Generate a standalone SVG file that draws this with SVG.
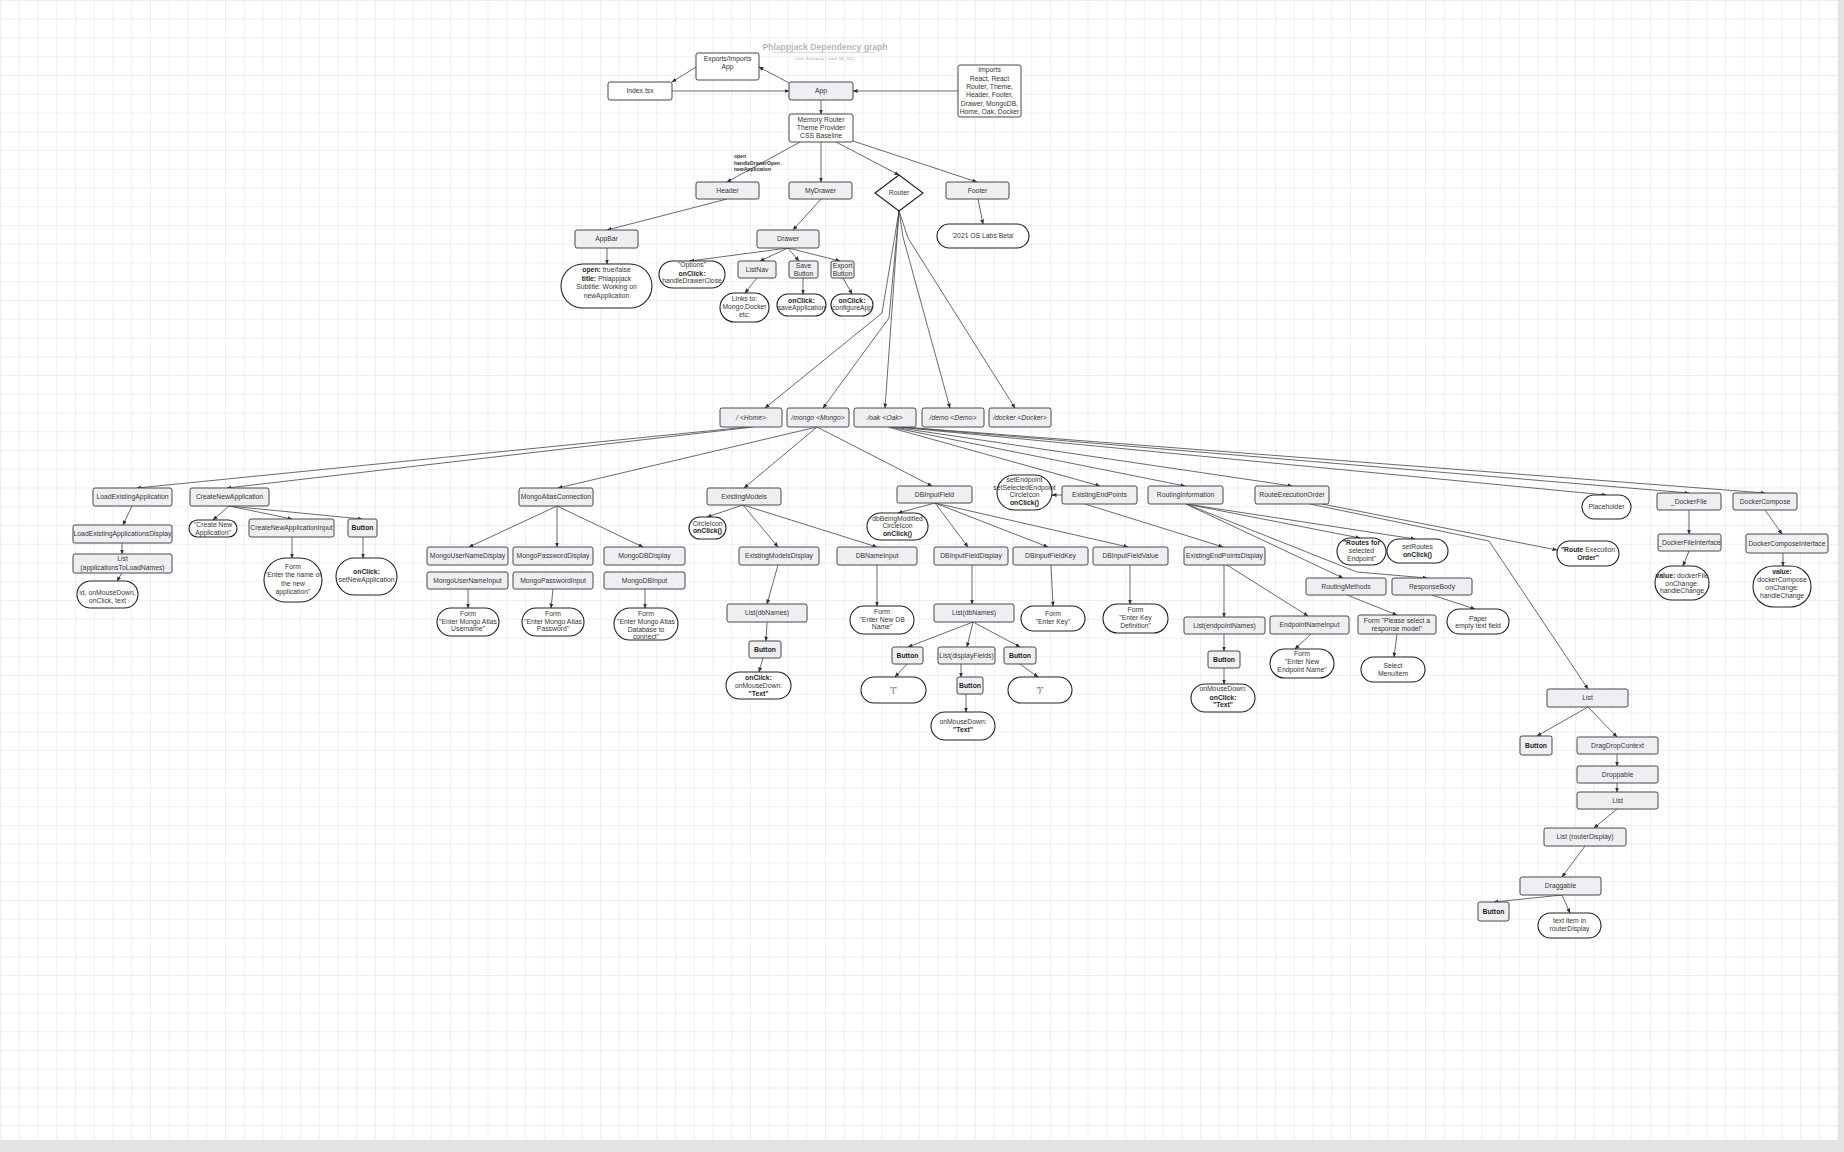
<svg xmlns="http://www.w3.org/2000/svg" width="1844" height="1152" viewBox="0 0 1844 1152">
<defs>
<pattern id="grid" width="18.75" height="18.75" patternUnits="userSpaceOnUse">
<path d="M18.75,0 L0,0 L0,18.75" fill="none" stroke="#d8d8d8" stroke-width="0.8"/>
</pattern>
<marker id="a" viewBox="0 0 10 10" refX="9" refY="5" markerWidth="5" markerHeight="5" markerUnits="userSpaceOnUse" orient="auto">
<path d="M0,1 L10,5 L0,9 z" fill="#333"/>
</marker>
</defs>
<style>
.g{fill:#efeff3;stroke:#484848;stroke-width:1}
.w{fill:#fff;stroke:#484848;stroke-width:1}
.p{fill:#fff;stroke:#222;stroke-width:1.1}
text{font-family:"Liberation Sans",Arial,sans-serif;font-size:6.8px;fill:#353535;text-anchor:middle}
.bd{font-weight:bold;fill:#1e1e1e}
.it{font-style:italic}
.e{fill:none;stroke:#444;stroke-width:.8;marker-end:url(#a)}
</style>
<rect width="1844" height="1152" fill="#fff"/>
<rect width="1838" height="1140" fill="url(#grid)"/>
<rect x="1838" y="0" width="6" height="1152" fill="#e4e4e4"/>
<rect x="0" y="1140" width="1844" height="12" fill="#e4e4e4"/>

<g id="title">
<text x="825" y="50" style="font-size:8.6px;font-weight:bold;fill:#b3b8c8">Phlappjack Dependency graph</text>
<line x1="773" y1="52.6" x2="875" y2="52.6" stroke="#c9cdd8" stroke-width=".8"/>
<text x="825" y="60" style="font-size:4.4px;fill:#a8acb8">Chris Salisbury  |  June 18, 2021</text>
</g>

<g id="connectors">
<path class="e" d="M789,83 L759,67"/>
<path class="e" d="M696,67 L672,82"/>
<path class="e" d="M672,91 L789,91"/>
<path class="e" d="M958,91 L853,91"/>
<path class="e" d="M821,100 L821,114"/>
<path class="e" d="M800,142 L727,182"/>
<path class="e" d="M821,142 L821,182"/>
<path class="e" d="M836,142 L899,175"/>
<path class="e" d="M853,141 L977,182"/>
<path class="e" d="M978,199 L983,224"/>
<path class="e" d="M727,199 L607,230"/>
<path class="e" d="M607,248 L607,264"/>
<path class="e" d="M821,199 L793,230"/>
<path class="e" d="M788,248 L690,261"/>
<path class="e" d="M788,248 L760,261"/>
<path class="e" d="M788,248 L799,261"/>
<path class="e" d="M788,248 L840,261"/>
<path class="e" d="M757,278 L745,293"/>
<path class="e" d="M803,278 L803,294"/>
<path class="e" d="M843,278 L852,294"/>
<path class="e" d="M899,211 L882,313 L765,408"/>
<path class="e" d="M899,211 L889,318 L823,408"/>
<path class="e" d="M899,211 L885,408"/>
<path class="e" d="M899,211 L903,237 L950,408"/>
<path class="e" d="M899,211 L908,238 L1015,408"/>
<path class="e" d="M748,427 L137,488"/>
<path class="e" d="M753,427 L227,488"/>
<path class="e" d="M817,427 L558,488"/>
<path class="e" d="M817,427 L744,488"/>
<path class="e" d="M817,427 L932,486"/>
<path class="e" d="M888,427 L1100,486"/>
<path class="e" d="M890,427 L1185,486"/>
<path class="e" d="M893,427 L1292,486"/>
<path class="e" d="M897,427 L1606,495"/>
<path class="e" d="M900,427 L1689,493"/>
<path class="e" d="M903,427 L1765,493"/>
<path class="e" d="M132,506 L123,525"/>
<path class="e" d="M122,543 L122,554"/>
<path class="e" d="M122,573 L117,581"/>
<path class="e" d="M229,506 L213,520"/>
<path class="e" d="M229,506 L292,519"/>
<path class="e" d="M229,506 L362,519"/>
<path class="e" d="M292,537 L292,558"/>
<path class="e" d="M363,537 L363,558"/>
<path class="e" d="M557,506 L469,547"/>
<path class="e" d="M557,506 L557,547"/>
<path class="e" d="M557,506 L643,547"/>
<path class="e" d="M468,589 L468,608"/>
<path class="e" d="M553,589 L551,608"/>
<path class="e" d="M645,589 L645,608"/>
<path class="e" d="M743,505 L707,517"/>
<path class="e" d="M743,505 L778,547"/>
<path class="e" d="M743,505 L877,547"/>
<path class="e" d="M778,565 L767,604"/>
<path class="e" d="M767,622 L766,641"/>
<path class="e" d="M763,658 L759,672"/>
<path class="e" d="M877,565 L877,606"/>
<path class="e" d="M935,503 L898,513"/>
<path class="e" d="M935,503 L968,547"/>
<path class="e" d="M935,503 L1048,547"/>
<path class="e" d="M935,503 L1128,547"/>
<path class="e" d="M972,565 L972,604"/>
<path class="e" d="M973,622 L908,647"/>
<path class="e" d="M973,622 L967,647"/>
<path class="e" d="M973,622 L1020,647"/>
<path class="e" d="M907,664 L895,677"/>
<path class="e" d="M961,664 L961,677"/>
<path class="e" d="M966,694 L966,712"/>
<path class="e" d="M1020,664 L1038,677"/>
<path class="e" d="M1051,565 L1053,606"/>
<path class="e" d="M1130,565 L1130,604"/>
<path class="e" d="M1062,495 L1052,495"/>
<path class="e" d="M1085,504 L1223,547"/>
<path class="e" d="M1224,565 L1224,617"/>
<path class="e" d="M1227,565 L1308,616"/>
<path class="e" d="M1224,634 L1224,651"/>
<path class="e" d="M1224,668 L1224,684"/>
<path class="e" d="M1311,634 L1295,649"/>
<path class="e" d="M1186,504 L1360,538"/>
<path class="e" d="M1186,504 L1415,539"/>
<path class="e" d="M1186,504 L1343,578"/>
<path class="e" d="M1186,504 L1357,572 L1427,578"/>
<path class="e" d="M1347,595 L1397,615"/>
<path class="e" d="M1432,595 L1475,609"/>
<path class="e" d="M1397,634 L1394,657"/>
<path class="e" d="M1310,504 L1489,541 L1588,689"/>
<path class="e" d="M1322,504 L1557,550"/>
<path class="e" d="M1689,510 L1689,534"/>
<path class="e" d="M1689,551 L1683,566"/>
<path class="e" d="M1765,510 L1782,534"/>
<path class="e" d="M1783,553 L1783,566"/>
<path class="e" d="M1588,707 L1537,736"/>
<path class="e" d="M1588,707 L1617,737"/>
<path class="e" d="M1617,754 L1617,766"/>
<path class="e" d="M1617,783 L1617,792"/>
<path class="e" d="M1617,809 L1594,828"/>
<path class="e" d="M1585,846 L1562,877"/>
<path class="e" d="M1562,895 L1494,902"/>
<path class="e" d="M1562,895 L1570,913"/>
<text style="font-size:5px;font-weight:bold;fill:#333;text-anchor:start"><tspan x="734" y="158">open</tspan><tspan x="734" y="164.5">handleDrawerOpen</tspan><tspan x="734" y="171">newApplication</tspan></text>
</g>

<g id="n-exports"><rect class="w" x="696" y="53" width="63" height="27" rx="2"/><text><tspan x="727.5" y="60.8">Exports/Imports</tspan><tspan x="727.5" y="69.1">App</tspan></text></g>
<g id="n-index"><rect class="w" x="608" y="82" width="64" height="18" rx="2"/><text x="640" y="93.4">Index.tsx</text></g>
<g id="n-app"><rect class="g" x="789" y="82" width="64" height="18" rx="2"/><text x="821" y="93.4">App</text></g>
<g id="n-imports"><rect class="w" x="958" y="65" width="63" height="52" rx="2"/><text><tspan x="989.5" y="72.4">Imports</tspan><tspan x="989.5" y="80.7">React, React</tspan><tspan x="989.5" y="89">Router, Theme,</tspan><tspan x="989.5" y="97.3">Header, Footer,</tspan><tspan x="989.5" y="105.6">Drawer, MongoDB,</tspan><tspan x="989.5" y="113.9">Home, Oak, Docker</tspan></text></g>
<g id="n-memory"><rect class="w" x="789" y="114" width="64" height="28" rx="2"/><text><tspan x="821" y="121.5">Memory Router</tspan><tspan x="821" y="129.5">Theme Provider</tspan><tspan x="821" y="137.5">CSS Baseline</tspan></text></g>
<g id="n-header"><rect class="g" x="696" y="182" width="63" height="17" rx="2"/><text x="727.5" y="193">Header</text></g>
<g id="n-mydrawer"><rect class="g" x="789" y="182" width="63" height="17" rx="2"/><text x="820.5" y="193">MyDrawer</text></g>
<g id="n-router"><polygon class="p" points="875,193 899,175 923,193 899,211"/><text x="899" y="195.4">Router</text></g>
<g id="n-footer"><rect class="g" x="946" y="182" width="63" height="17" rx="2"/><text x="977.5" y="193">Footer</text></g>
<g id="n-labs"><rect class="p" x="937" y="224" width="92" height="24" rx="12"/><text x="983" y="238.4">'2021 OS Labs Beta'</text></g>
<g id="n-appbar"><rect class="g" x="575" y="230" width="63" height="18" rx="2"/><text x="606.5" y="241.4">AppBar</text></g>
<g id="n-appbar-props"><rect class="p" x="561" y="264" width="91" height="44" rx="22"/><text><tspan x="606.5" y="272.4"><tspan class="bd">open:</tspan> true/false</tspan><tspan x="606.5" y="280.7"><tspan class="bd">title:</tspan>  Phlappjack</tspan><tspan x="606.5" y="289.4">Subtitle: Working on</tspan><tspan x="606.5" y="297.7">newApplication</tspan></text></g>
<g id="n-drawer"><rect class="g" x="757" y="230" width="62" height="18" rx="2"/><text x="788" y="241.4">Drawer</text></g>
<g id="n-options"><rect class="p" x="659" y="261" width="66" height="27" rx="13.5"/><text><tspan x="692" y="267.4">"Options"</tspan><tspan x="692" y="275.7" class="bd">onClick:</tspan><tspan x="692" y="283.4">handleDrawerClose</tspan></text></g>
<g id="n-listnav"><rect class="g" x="738" y="261" width="38" height="17" rx="2"/><text x="757" y="272">ListNav</text></g>
<g id="n-save"><rect class="g" x="789" y="261" width="29" height="17" rx="2"/><text><tspan x="803.5" y="268.1">Save</tspan><tspan x="803.5" y="275.7">Button</tspan></text></g>
<g id="n-export"><rect class="g" x="831" y="261" width="23" height="17" rx="2"/><text><tspan x="842.5" y="268.1">Export</tspan><tspan x="842.5" y="275.7">Button</tspan></text></g>
<g id="n-links"><rect class="p" x="720" y="293" width="49" height="29" rx="14.5"/><text><tspan x="744.5" y="301.4">Links to:</tspan><tspan x="744.5" y="309.4">Mongo,Docker</tspan><tspan x="744.5" y="317.4">etc:</tspan></text></g>
<g id="n-saveapp"><rect class="p" x="777" y="294" width="49" height="22" rx="11"/><text><tspan x="801.5" y="303.1" class="bd">onClick:</tspan><tspan x="801.5" y="310.4">saveApplication</tspan></text></g>
<g id="n-configure"><rect class="p" x="831" y="294" width="42" height="22" rx="11"/><text><tspan x="852" y="303.1" class="bd">onClick:</tspan><tspan x="852" y="310.4">configureApp</tspan></text></g>

<g id="n-home"><rect class="g" x="720" y="408" width="62" height="19" rx="2"/><text class="it" x="751" y="420">/ &lt;Home&gt;</text></g>
<g id="n-mongo"><rect class="g" x="787" y="408" width="62" height="19" rx="2"/><text class="it" x="818" y="420">/mongo &lt;Mongo&gt;</text></g>
<g id="n-oak"><rect class="g" x="854" y="408" width="62" height="19" rx="2"/><text class="it" x="885" y="420">/oak &lt;Oak&gt;</text></g>
<g id="n-demo"><rect class="g" x="922" y="408" width="62" height="19" rx="2"/><text class="it" x="953" y="420">/demo &lt;Demo&gt;</text></g>
<g id="n-docker"><rect class="g" x="989" y="408" width="62" height="19" rx="2"/><text class="it" x="1020" y="420">/docker &lt;Docker&gt;</text></g>

<g id="n-loadexisting"><rect class="g" x="93" y="488" width="79" height="18" rx="2"/><text x="132.5" y="499.4">LoadExistingApplication</text></g>
<g id="n-createnew"><rect class="g" x="190" y="488" width="79" height="18" rx="2"/><text x="229.5" y="499.4">CreateNewApplication</text></g>
<g id="n-loaddisplay"><rect class="g" x="73" y="525" width="99" height="18" rx="2"/><text x="122.5" y="536.4">LoadExistingApplicationsDisplay</text></g>
<g id="n-loadlist"><rect class="g" x="73" y="554" width="99" height="19" rx="2"/><text><tspan x="122.5" y="561.4">List</tspan><tspan x="122.5" y="570.1">(applicationsToLoadNames)</tspan></text></g>
<g id="n-loadprops"><rect class="p" x="77" y="581" width="61" height="27" rx="13.5"/><text><tspan x="107.5" y="594.7">id, onMouseDown,</tspan><tspan x="107.5" y="603.4">onClick, text</tspan></text></g>
<g id="n-createlabel"><rect class="p" x="189" y="520" width="48" height="17" rx="8.5"/><text><tspan x="213" y="527.4">"Create New</tspan><tspan x="213" y="535.1">Application"</tspan></text></g>
<g id="n-createinput"><rect class="g" x="249" y="519" width="85" height="18" rx="2"/><text x="291.5" y="530.4">CreateNewApplicationInput</text></g>
<g id="n-createbutton"><rect class="g" x="348" y="519" width="29" height="18" rx="2"/><text class="bd" x="362.5" y="530.4">Button</text></g>
<g id="n-createform"><rect class="p" x="264" y="558" width="58" height="44" rx="22"/><text><tspan x="293" y="569.1">Form</tspan><tspan x="293" y="577.4">"Enter the name of</tspan><tspan x="293" y="585.7">the new</tspan><tspan x="293" y="594.1">application"</tspan></text></g>
<g id="n-setnew"><rect class="p" x="336" y="558" width="61" height="37" rx="18.5"/><text><tspan x="366.5" y="574.1" class="bd">onClick:</tspan><tspan x="366.5" y="581.7">setNewApplication</tspan></text></g>

<g id="n-atlas"><rect class="g" x="519" y="488" width="74" height="18" rx="2"/><text x="556" y="499.4">MongoAtlasConnection</text></g>
<g id="n-userdisplay"><rect class="g" x="427" y="547" width="81" height="18" rx="2"/><text x="467.5" y="558.4">MongoUserNameDisplay</text></g>
<g id="n-passdisplay"><rect class="g" x="513" y="547" width="80" height="18" rx="2"/><text x="553" y="558.4">MongoPasswordDisplay</text></g>
<g id="n-dbdisplay"><rect class="g" x="604" y="547" width="81" height="18" rx="2"/><text x="644.5" y="558.4">MongoDBDisplay</text></g>
<g id="n-userinput"><rect class="g" x="427" y="572" width="81" height="17" rx="2"/><text x="467.5" y="582.9">MongoUserNameInput</text></g>
<g id="n-passinput"><rect class="g" x="513" y="572" width="80" height="17" rx="2"/><text x="553" y="582.9">MongoPasswordInput</text></g>
<g id="n-dbinput"><rect class="g" x="604" y="572" width="81" height="17" rx="2"/><text x="644.5" y="582.9">MongoDBInput</text></g>
<g id="n-userform"><rect class="p" x="437" y="608" width="62" height="28" rx="14"/><text><tspan x="468" y="615.7">Form</tspan><tspan x="468" y="624.1">"Enter Mongo Atlas</tspan><tspan x="468" y="631.4">Username"</tspan></text></g>
<g id="n-passform"><rect class="p" x="522" y="608" width="62" height="28" rx="14"/><text><tspan x="553" y="615.7">Form</tspan><tspan x="553" y="624.1">"Enter Mongo Atlas</tspan><tspan x="553" y="631.4">Password"</tspan></text></g>
<g id="n-dbform"><rect class="p" x="614" y="608" width="64" height="32" rx="16"/><text><tspan x="646" y="615.7">Form</tspan><tspan x="646" y="624.1">"Enter Mongo Atlas</tspan><tspan x="646" y="631.7">Database to</tspan><tspan x="646" y="639.3">connect"</tspan></text></g>

<g id="n-existingmodels"><rect class="g" x="707" y="488" width="74" height="17" rx="2"/><text x="744" y="498.9">ExistingModels</text></g>
<g id="n-circleicon1"><rect class="p" x="689" y="517" width="37" height="22" rx="11"/><text><tspan x="707.5" y="525.7">CircleIcon</tspan><tspan x="707.5" y="533.4" class="bd">onClick()</tspan></text></g>
<g id="n-modelsdisplay"><rect class="g" x="739" y="547" width="80" height="18" rx="2"/><text x="779" y="558.4">ExistingModelsDisplay</text></g>
<g id="n-dbnameinput"><rect class="g" x="837" y="547" width="80" height="18" rx="2"/><text x="877" y="558.4">DBNameInput</text></g>
<g id="n-dblist1"><rect class="g" x="727" y="604" width="80" height="18" rx="2"/><text x="767" y="615.4">List(dbNames)</text></g>
<g id="n-dbbutton1"><rect class="g" x="749" y="641" width="32" height="17" rx="2"/><text class="bd" x="765" y="651.9">Button</text></g>
<g id="n-dbclick"><rect class="p" x="726" y="672" width="65" height="27" rx="13.5"/><text><tspan x="758.5" y="679.7" class="bd">onClick:</tspan><tspan x="758.5" y="688.1">onMouseDown:</tspan><tspan x="758.5" y="695.7" class="bd">"Text"</tspan></text></g>
<g id="n-dbnameform"><rect class="p" x="850" y="606" width="64" height="28" rx="14"/><text><tspan x="882" y="614.1">Form</tspan><tspan x="882" y="621.7">"Enter New DB</tspan><tspan x="882" y="629.1">Name"</tspan></text></g>

<g id="n-dbinputfield"><rect class="g" x="897" y="486" width="75" height="17" rx="2"/><text x="934.5" y="496.9">DBInputField</text></g>
<g id="n-dbmodified"><rect class="p" x="867" y="513" width="61" height="27" rx="13.5"/><text><tspan x="897.5" y="520.7">dbBeingModified</tspan><tspan x="897.5" y="528.4">CircleIcon</tspan><tspan x="897.5" y="536.4" class="bd">onClick()</tspan></text></g>
<g id="n-fielddisplay"><rect class="g" x="934" y="547" width="74" height="18" rx="2"/><text x="971" y="558.4">DBInputFieldDisplay</text></g>
<g id="n-fieldkey"><rect class="g" x="1013" y="547" width="75" height="18" rx="2"/><text x="1050.5" y="558.4">DBInputFieldKey</text></g>
<g id="n-fieldvalue"><rect class="g" x="1093" y="547" width="75" height="18" rx="2"/><text x="1130.5" y="558.4">DBInputFieldValue</text></g>
<g id="n-dblist2"><rect class="g" x="934" y="604" width="80" height="18" rx="2"/><text x="974" y="615.4">List(dbNames)</text></g>
<g id="n-dbbutton2"><rect class="g" x="892" y="647" width="31" height="17" rx="2"/><text class="bd" x="907.5" y="657.9">Button</text></g>
<g id="n-displayfields"><rect class="g" x="938" y="647" width="57" height="17" rx="2"/><text x="966.5" y="657.9">List(displayFields)</text></g>
<g id="n-dbbutton3"><rect class="g" x="1004" y="647" width="32" height="17" rx="2"/><text class="bd" x="1020" y="657.9">Button</text></g>
<g id="n-openbrace"><rect class="p" x="861" y="677" width="65" height="26" rx="13"/><text x="893.5" y="692.4">"{"</text></g>
<g id="n-dbbutton4"><rect class="g" x="957" y="677" width="26" height="17" rx="2"/><text class="bd" x="970" y="687.9">Button</text></g>
<g id="n-fieldmouse"><rect class="p" x="931" y="712" width="64" height="28" rx="14"/><text><tspan x="963" y="724.1">onMouseDown:</tspan><tspan x="963" y="731.7" class="bd">"Text"</tspan></text></g>
<g id="n-closebrace"><rect class="p" x="1008" y="677" width="64" height="26" rx="13"/><text x="1040" y="692.4">"}"</text></g>
<g id="n-keyform"><rect class="p" x="1021" y="606" width="64" height="25" rx="12.5"/><text><tspan x="1053" y="616.4">Form</tspan><tspan x="1053" y="624.1">"Enter Key"</tspan></text></g>
<g id="n-keydefform"><rect class="p" x="1103" y="604" width="65" height="29" rx="14.5"/><text><tspan x="1135.5" y="611.7">Form</tspan><tspan x="1135.5" y="619.7">"Enter Key</tspan><tspan x="1135.5" y="627.7">Definition"</tspan></text></g>

<g id="n-setendpoint"><rect class="p" x="997" y="475" width="55" height="35" rx="17.5"/><text><tspan x="1024.5" y="481.7">setEndpoint</tspan><tspan x="1024.5" y="489.7">setSelectedEndpoint</tspan><tspan x="1024.5" y="497.4">CircleIcon</tspan><tspan x="1024.5" y="505.1" class="bd">onClick()</tspan></text></g>
<g id="n-existingendpoints"><rect class="g" x="1062" y="486" width="75" height="18" rx="2"/><text x="1099.5" y="497.4">ExistingEndPoints</text></g>
<g id="n-routinginfo"><rect class="g" x="1148" y="486" width="75" height="18" rx="2"/><text x="1185.5" y="497.4">RoutingInformation</text></g>
<g id="n-routeexec"><rect class="g" x="1255" y="486" width="74" height="18" rx="2"/><text x="1292" y="497.4">RouteExecutionOrder</text></g>
<g id="n-endpointsdisplay"><rect class="g" x="1184" y="547" width="81" height="18" rx="2"/><text x="1224.5" y="558.4">ExistingEndPointsDisplay</text></g>
<g id="n-endpointlist"><rect class="g" x="1184" y="617" width="81" height="17" rx="2"/><text x="1224.5" y="627.9">List(endpointNames)</text></g>
<g id="n-epbutton"><rect class="g" x="1208" y="651" width="32" height="17" rx="2"/><text class="bd" x="1224" y="661.9">Button</text></g>
<g id="n-epmouse"><rect class="p" x="1191" y="684" width="64" height="28" rx="14"/><text><tspan x="1223" y="691.4">onMouseDown:</tspan><tspan x="1223" y="699.7" class="bd">onClick:</tspan><tspan x="1223" y="707.4" class="bd">"Text"</tspan></text></g>
<g id="n-epnameinput"><rect class="g" x="1270" y="616" width="79" height="18" rx="2"/><text x="1309.5" y="627.4">EndpointNameInput</text></g>
<g id="n-epform"><rect class="p" x="1270" y="649" width="64" height="29" rx="14.5"/><text><tspan x="1302" y="655.7">Form</tspan><tspan x="1302" y="664.1">"Enter New</tspan><tspan x="1302" y="672.4">Endpoint Name"</tspan></text></g>
<g id="n-responseform"><rect class="g" x="1358" y="615" width="78" height="19" rx="2"/><text><tspan x="1397" y="623.1">Form "Please select a</tspan><tspan x="1397" y="630.7">response model"</tspan></text></g>
<g id="n-menuitem"><rect class="p" x="1361" y="657" width="64" height="25" rx="12.5"/><text><tspan x="1393" y="668.1">Select</tspan><tspan x="1393" y="675.7">MenuItem</tspan></text></g>
<g id="n-routingmethods"><rect class="g" x="1306" y="578" width="80" height="17" rx="2"/><text x="1346" y="588.9">RoutingMethods</text></g>
<g id="n-responsebody"><rect class="g" x="1392" y="578" width="80" height="17" rx="2"/><text x="1432" y="588.9">ResponseBody</text></g>
<g id="n-paper"><rect class="p" x="1447" y="609" width="62" height="25" rx="12.5"/><text><tspan x="1478" y="620.7">Paper</tspan><tspan x="1478" y="628.4">empty text field</tspan></text></g>
<g id="n-routesfor"><rect class="p" x="1337" y="538" width="49" height="27" rx="13.5"/><text><tspan x="1361.5" y="545.1" class="bd">"Routes for</tspan><tspan x="1361.5" y="553.1">selected</tspan><tspan x="1361.5" y="560.7">Endpoint"</tspan></text></g>
<g id="n-setroutes"><rect class="p" x="1387" y="539" width="61" height="24" rx="12"/><text><tspan x="1417.5" y="549.1">setRoutes</tspan><tspan x="1417.5" y="556.7" class="bd">onClick()</tspan></text></g>
<g id="n-routeorder"><rect class="p" x="1557" y="541" width="62" height="25" rx="12.5"/><text><tspan x="1588" y="551.7"><tspan class="bd">"Route</tspan> Execution</tspan><tspan x="1588" y="559.7" class="bd">Order"</tspan></text></g>

<g id="n-placeholder"><rect class="p" x="1582" y="495" width="49" height="24" rx="12"/><text x="1606.5" y="509.4">Placeholder</text></g>
<g id="n-dockerfile"><rect class="g" x="1657" y="493" width="64" height="17" rx="2"/><text x="1689" y="503.9">_DockerFile</text></g>
<g id="n-dockercompose"><rect class="g" x="1733" y="493" width="64" height="17" rx="2"/><text x="1765" y="503.9">DockerCompose</text></g>
<g id="n-dockerfileinterface"><rect class="g" x="1658" y="534" width="63" height="17" rx="2"/><text x="1689.5" y="544.9">_DockerFileInterface</text></g>
<g id="n-composeinterface"><rect class="g" x="1746" y="534" width="82" height="19" rx="2"/><text x="1787" y="545.9">DockerComposeInterface</text></g>
<g id="n-dockerfilevalue"><rect class="p" x="1655" y="566" width="54" height="34" rx="17"/><text><tspan x="1682" y="578.1"><tspan class="bd">value:</tspan> dockerFile</tspan><tspan x="1682" y="585.7">onChange:</tspan><tspan x="1682" y="593.4">handleChange</tspan></text></g>
<g id="n-composevalue"><rect class="p" x="1753" y="566" width="58" height="41" rx="20.5"/><text><tspan x="1782" y="574.1" class="bd">value:</tspan><tspan x="1782" y="581.7">dockerCompose</tspan><tspan x="1782" y="589.7">onChange:</tspan><tspan x="1782" y="598.1">handleChange</tspan></text></g>

<g id="n-list1"><rect class="g" x="1547" y="689" width="81" height="18" rx="2"/><text x="1587.5" y="700.4">List</text></g>
<g id="n-listbutton1"><rect class="g" x="1520" y="736" width="32" height="19" rx="2"/><text class="bd" x="1536" y="747.9">Button</text></g>
<g id="n-dragdrop"><rect class="g" x="1577" y="737" width="81" height="17" rx="2"/><text x="1617.5" y="747.9">DragDropContext</text></g>
<g id="n-droppable"><rect class="g" x="1577" y="766" width="81" height="17" rx="2"/><text x="1617.5" y="776.9">Droppable</text></g>
<g id="n-list2"><rect class="g" x="1577" y="792" width="81" height="17" rx="2"/><text x="1617.5" y="802.9">List</text></g>
<g id="n-routerdisplay"><rect class="g" x="1544" y="828" width="82" height="18" rx="2"/><text x="1585" y="839.4">List (routerDisplay)</text></g>
<g id="n-draggable"><rect class="g" x="1520" y="877" width="81" height="18" rx="2"/><text x="1560.5" y="888.4">Draggable</text></g>
<g id="n-listbutton2"><rect class="g" x="1478" y="902" width="31" height="19" rx="2"/><text class="bd" x="1493.5" y="913.9">Button</text></g>
<g id="n-textitem"><rect class="p" x="1538" y="913" width="63" height="25" rx="12.5"/><text><tspan x="1569.5" y="923.1">text item in</tspan><tspan x="1569.5" y="930.7">routerDisplay</tspan></text></g>
</svg>
